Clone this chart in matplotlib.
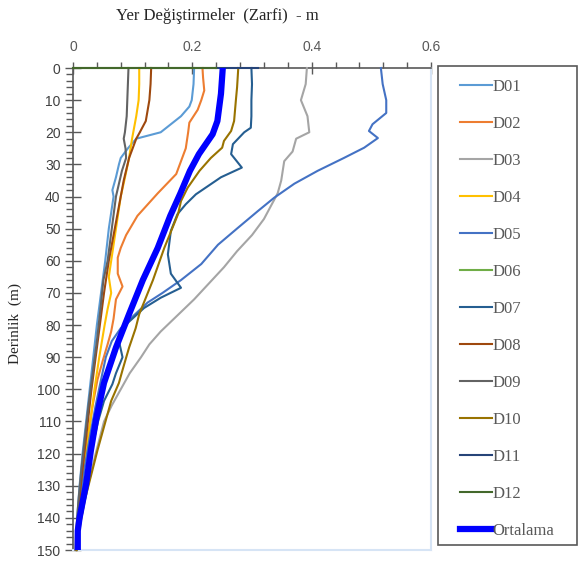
import matplotlib
matplotlib.use("Agg")
import matplotlib.pyplot as plt
from matplotlib.patches import Rectangle
from matplotlib.ticker import MultipleLocator, FormatStrFormatter

# depth (m) and envelope displacement (m) for each record
d01_depth = [0, 5, 10, 12, 15, 20, 22, 25, 28, 30, 34, 38, 40, 45, 50, 60, 70, 80, 90, 100, 110, 120, 130, 140, 150]
d01_disp = [0.203, 0.202, 0.199, 0.195, 0.181, 0.147, 0.106, 0.092, 0.080, 0.077, 0.072, 0.066, 0.068, 0.064, 0.060,
            0.054, 0.047, 0.040, 0.034, 0.028, 0.022, 0.016, 0.011, 0.007, 0.005]

d02_depth = [0, 3, 7, 10, 13, 17, 20, 25, 29, 33, 39, 46, 52, 56, 59, 64, 68, 72, 78, 82, 86, 91, 97, 105, 115,
             125, 135, 145, 150]
d02_disp = [0.217, 0.218, 0.220, 0.215, 0.209, 0.195, 0.193, 0.189, 0.181, 0.173, 0.142, 0.108, 0.089, 0.080, 0.075,
            0.075, 0.083, 0.072, 0.068, 0.064, 0.058, 0.050, 0.041, 0.033, 0.025, 0.018, 0.012, 0.007, 0.005]

d03_depth = [0, 5, 10, 15, 20, 22, 26, 29, 35, 39, 47, 52, 57, 62, 67, 72, 77, 82, 86, 90, 95, 100, 105, 110, 120,
             130, 140, 150]
d03_disp = [0.392, 0.390, 0.382, 0.393, 0.396, 0.374, 0.368, 0.354, 0.349, 0.343, 0.320, 0.300, 0.275, 0.253, 0.228,
            0.203, 0.175, 0.147, 0.128, 0.114, 0.095, 0.080, 0.065, 0.052, 0.038, 0.025, 0.014, 0.006]

d04_depth = [0, 5, 10, 15, 20, 22, 28, 35, 40, 45, 50, 55, 60, 65, 70, 75, 80, 90, 100, 110, 120, 130, 140, 150]
d04_disp = [0.111, 0.111, 0.110, 0.106, 0.101, 0.099, 0.094, 0.086, 0.080, 0.076, 0.072, 0.068, 0.064, 0.060, 0.064,
            0.058, 0.053, 0.044, 0.036, 0.029, 0.022, 0.015, 0.009, 0.005]

d05_depth = [0, 5, 10, 14, 17.5, 19.6, 21.8, 24.8, 28, 32, 36, 40.4, 44.5, 49.8, 55, 61, 66, 70, 73, 77, 81, 85, 90,
             97, 105, 115, 125, 135, 145, 150]
d05_disp = [0.516, 0.519, 0.525, 0.525, 0.502, 0.496, 0.511, 0.488, 0.454, 0.410, 0.371, 0.337, 0.310, 0.276, 0.243,
            0.215, 0.181, 0.150, 0.125, 0.102, 0.080, 0.065, 0.055, 0.047, 0.038, 0.028, 0.019, 0.012, 0.006, 0.005]

d06_depth = [0, 0]
d06_disp = [0.0, 0.24]

d07_depth = [0, 5, 10, 15, 18.6, 20, 23.7, 26.8, 31, 34, 39.3, 42.4, 45.5, 50.7, 58, 64, 68.4, 71.5, 74.7, 79.8, 85,
             90, 95, 98.4, 103.6, 110, 120, 130, 140, 150]
d07_disp = [0.299, 0.300, 0.299, 0.299, 0.298, 0.287, 0.268, 0.265, 0.283, 0.248, 0.206, 0.189, 0.175, 0.164, 0.159,
            0.164, 0.181, 0.147, 0.119, 0.089, 0.077, 0.083, 0.072, 0.066, 0.052, 0.042, 0.030, 0.020, 0.012, 0.006]

d08_depth = [0, 5, 10, 16.5, 20, 22, 28, 35, 40, 50, 60, 70, 80, 90, 100, 110, 120, 130, 140, 150]
d08_disp = [0.131, 0.130, 0.128, 0.122, 0.112, 0.106, 0.094, 0.085, 0.080, 0.070, 0.060, 0.052, 0.045, 0.038, 0.031,
            0.025, 0.019, 0.013, 0.008, 0.005]

d09_depth = [0, 5, 10, 15, 20, 22, 25, 28, 32, 40, 50, 60, 66, 75, 85, 95, 105, 115, 125, 135, 145, 150]
d09_disp = [0.093, 0.092, 0.091, 0.090, 0.087, 0.085, 0.088, 0.089, 0.082, 0.072, 0.065, 0.058, 0.051, 0.046, 0.040,
            0.033, 0.026, 0.020, 0.014, 0.009, 0.005, 0.004]

d10_depth = [0, 6, 10, 16.5, 19.6, 22.7, 24.8, 28, 32, 37.3, 41.4, 45.5, 56, 66, 76.6, 81, 87, 94, 98, 103.6, 119,
             135, 145, 150]
d10_disp = [0.277, 0.275, 0.273, 0.270, 0.265, 0.253, 0.250, 0.231, 0.212, 0.192, 0.181, 0.176, 0.153, 0.134, 0.111,
            0.105, 0.094, 0.083, 0.077, 0.064, 0.041, 0.019, 0.009, 0.006]

d11_depth = [0, 0]
d11_disp = [0.24, 0.31]

d12_depth = [0, 0]
d12_disp = [0.0, 0.24]

mean_depth = [0, 8, 16.5, 20.6, 26.8, 32, 39, 46, 56, 66, 76.6, 87, 98, 109, 119, 129.5, 140, 144, 150]
mean_disp = [0.251, 0.248, 0.242, 0.234, 0.211, 0.196, 0.180, 0.163, 0.142, 0.117, 0.094, 0.072, 0.052, 0.039,
             0.030, 0.022, 0.011, 0.008, 0.008]

labels = ["D01", "D02", "D03", "D04", "D05", "D06", "D07", "D08", "D09", "D10", "D11", "D12"]
colors = ["#5B9BD5", "#ED7D31", "#A5A5A5", "#FFC000", "#4472C4", "#70AD47",
          "#255E91", "#9E480E", "#636363", "#997300", "#264478", "#43682B"]
series = [(d01_disp, d01_depth), (d02_disp, d02_depth), (d03_disp, d03_depth), (d04_disp, d04_depth),
          (d05_disp, d05_depth), (d06_disp, d06_depth), (d07_disp, d07_depth), (d08_disp, d08_depth),
          (d09_disp, d09_depth), (d10_disp, d10_depth), (d11_disp, d11_depth), (d12_disp, d12_depth)]

fig = plt.figure(figsize=(5.79, 5.66), dpi=100)
ax = fig.add_axes([73 / 579, 1 - 550 / 566, 358 / 579, 482 / 566])

for (x, y), lab, c in zip(series, labels, colors):
    # records that sit on the surface line are drawn above the top spine
    ax.plot(x, y, color=c, lw=1.5, label=lab, clip_on=False, zorder=3)
ax.plot(mean_disp, mean_depth, color="#0000FF", lw=4.5, label="Ortalama", zorder=4)

ax.set_xlim(0, 0.6)
ax.set_ylim(150, 0)
ax.xaxis.tick_top()
ax.xaxis.set_major_locator(MultipleLocator(0.2))
ax.xaxis.set_minor_locator(MultipleLocator(0.04))
ax.xaxis.set_major_formatter(FormatStrFormatter("%g"))
ax.yaxis.set_major_locator(MultipleLocator(10))
ax.yaxis.set_minor_locator(MultipleLocator(2))

ax.tick_params(axis="x", which="major", direction="inout", length=8, width=1, color="#595959",
               labelsize=10, labelcolor="#595959", pad=6)
ax.tick_params(axis="x", which="minor", direction="out", length=4, width=1, color="#595959")
ax.tick_params(axis="y", which="major", direction="inout", length=12, width=1, color="#595959",
               labelsize=10, labelcolor="#404040", pad=3)
ax.tick_params(axis="y", which="minor", direction="out", length=5, width=1, color="#595959")
for lbl in ax.get_xticklabels() + ax.get_yticklabels():
    lbl.set_family("Liberation Sans")

ax.spines["top"].set_color("#595959")
ax.spines["left"].set_color("#595959")
ax.spines["top"].set_linewidth(1.2)
ax.spines["left"].set_linewidth(1.2)
ax.spines["right"].set_color("#D6E4F5")
ax.spines["bottom"].set_color("#D6E4F5")
ax.spines["right"].set_linewidth(1.5)
ax.spines["bottom"].set_linewidth(1.5)

fig.text(217 / 579, 1 - 16 / 566, "Yer Değiştirmeler  (Zarfi)  - m", ha="center", va="center",
         family="Liberation Serif", fontsize=12, color="#262626")
fig.text(15 / 579, 1 - 323 / 566, "Derinlik  (m)", ha="center", va="center", rotation=90,
         family="Liberation Serif", fontsize=11, color="#262626")

# legend frame
fig.patches.append(Rectangle((438 / 579, 1 - 545 / 566), 139 / 579, 479 / 566, transform=fig.transFigure,
                             fill=False, edgecolor="#595959", lw=1.2))
leg = fig.legend(loc="upper left", bbox_to_anchor=(447 / 579, 1 - 66 / 566), frameon=False,
                 prop={"family": "Liberation Serif", "size": 12}, labelcolor="#595959",
                 handlelength=1.9, handletextpad=0.05, labelspacing=1.26, borderpad=0.3)

plt.savefig("out.png", dpi=100)
